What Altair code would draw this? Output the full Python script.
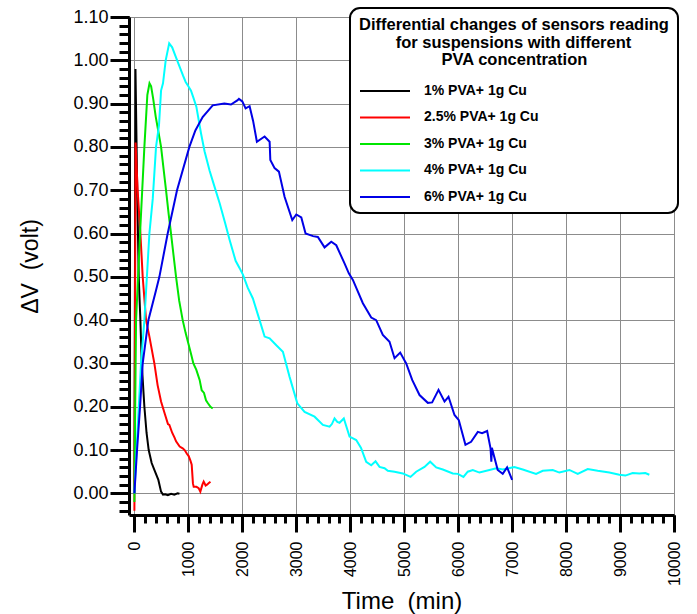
import altair as alt
import pandas as pd

FONT = "Liberation Sans"

series_names = ["1% PVA+ 1g Cu", "2.5% PVA+ 1g Cu", "3% PVA+ 1g Cu", "4% PVA+ 1g Cu", "6% PVA+ 1g Cu"]
series_colors = ["#000000", "#ff0000", "#00e600", "#00ffff", "#0000e6"]

x_1 = [0, 20, 50, 80, 111, 136, 185, 225, 265, 320, 370, 444, 494, 530, 570, 620, 680, 740, 800, 835]
y_1 = [0.0, 0.98, 0.72, 0.50, 0.40, 0.30, 0.20, 0.14, 0.10, 0.07, 0.054, 0.031, 0.004, -0.003, -0.002, -0.004, -0.001, -0.003, 0.0, -0.001]

x_2 = [0, 22, 60, 111, 154, 216, 278, 370, 430, 494, 560, 622, 648, 700, 746, 772, 839, 895, 931, 970, 1006,
       1040, 1062, 1085, 1099, 1150, 1191, 1222, 1260, 1284, 1320, 1346, 1380, 1410]
y_2 = [-0.04, 0.81, 0.70, 0.60, 0.50, 0.40, 0.362, 0.30, 0.25, 0.212, 0.185, 0.160, 0.158, 0.140, 0.128, 0.120, 0.108, 0.104, 0.100, 0.092, 0.086,
       0.075, 0.066, 0.023, 0.015, 0.015, 0.012, 0.004, 0.020, 0.027, 0.018, 0.020, 0.024, 0.027]

x_3 = [0, 15, 31, 105, 185, 240, 280, 310, 350, 395, 445, 494, 540, 586, 635, 679, 725, 772, 830, 895, 950, 1000,
       1050, 1093, 1148, 1209, 1247, 1290, 1327, 1363, 1410, 1451]
y_3 = [-0.02, 0.20, 0.40, 0.60, 0.80, 0.92, 0.947, 0.94, 0.91, 0.87, 0.835, 0.80, 0.75, 0.70, 0.645, 0.60, 0.55, 0.50, 0.445, 0.40, 0.37, 0.346,
       0.322, 0.30, 0.285, 0.262, 0.238, 0.232, 0.215, 0.208, 0.200, 0.196]

x_4 = [0, 40, 123, 185, 278, 340, 401, 456, 494, 530, 580, 645, 700, 760, 839, 900, 950, 1000, 1049, 1090, 1148, 1235,
       1300, 1394, 1480, 1580, 1680, 1765, 1876, 1950, 2011, 2100, 2196, 2320, 2413, 2506, 2630, 2752, 2876, 3019,
       3154, 3339, 3493, 3617, 3660, 3709, 3760, 3802, 3881, 3987, 4111, 4200, 4296, 4389, 4469, 4543, 4636, 4696,
       4821, 4974, 5117, 5222, 5376, 5481, 5593, 5716, 5901, 5994, 6098, 6178, 6271, 6395, 6580, 6704, 6827, 7043,
       7197, 7444, 7568, 7753, 7876, 8061, 8216, 8401, 8586, 8802, 8988, 9098, 9234, 9358, 9469, 9543]
y_4 = [0.0, 0.10, 0.30, 0.40, 0.60, 0.68, 0.80, 0.85, 0.93, 0.947, 1.0, 1.039, 1.03, 1.01, 0.985, 0.965, 0.95, 0.94, 0.93, 0.915, 0.893, 0.831,
       0.79, 0.745, 0.71, 0.67, 0.625, 0.585, 0.537, 0.52, 0.505, 0.475, 0.450, 0.400, 0.362, 0.358, 0.342, 0.327, 0.269, 0.208,
       0.188, 0.177, 0.158, 0.154, 0.160, 0.173, 0.165, 0.163, 0.173, 0.131, 0.123, 0.105, 0.073, 0.065, 0.074, 0.061, 0.058, 0.052,
       0.050, 0.046, 0.038, 0.050, 0.061, 0.073, 0.060, 0.055, 0.046, 0.045, 0.038, 0.050, 0.054, 0.048, 0.054, 0.058, 0.055, 0.061,
       0.055, 0.045, 0.052, 0.054, 0.048, 0.054, 0.045, 0.056, 0.052, 0.048, 0.043, 0.041, 0.047, 0.046, 0.047, 0.043]

x_6 = [0, 49, 105, 154, 259, 401, 463, 617, 790, 1019, 1130, 1265, 1451, 1667, 1790, 1914, 1937, 2000, 2061, 2135, 2200,
       2270, 2413, 2506, 2519, 2598, 2678, 2783, 2926, 3000, 3093, 3172, 3311, 3400, 3524, 3648, 3741, 3894, 3974,
       4049, 4234, 4389, 4481, 4604, 4728, 4821, 4926, 5037, 5148, 5284, 5438, 5518, 5636, 5747, 5821, 5932, 6012,
       6135, 6240, 6364, 6444, 6537, 6600, 6615, 6625, 6733, 6826, 6907, 7000]
y_6 = [0.0, 0.10, 0.20, 0.30, 0.40, 0.469, 0.50, 0.60, 0.70, 0.80, 0.838, 0.869, 0.896, 0.90, 0.898, 0.908, 0.911, 0.905, 0.889, 0.894, 0.86,
       0.812, 0.824, 0.812, 0.770, 0.751, 0.743, 0.685, 0.631, 0.644, 0.637, 0.600, 0.594, 0.592, 0.568, 0.581, 0.573, 0.531, 0.508,
       0.493, 0.439, 0.406, 0.400, 0.366, 0.350, 0.312, 0.325, 0.300, 0.262, 0.227, 0.209, 0.210, 0.239, 0.212, 0.223, 0.181, 0.169,
       0.112, 0.119, 0.142, 0.139, 0.144, 0.104, 0.073, 0.105, 0.054, 0.045, 0.060, 0.031]

x_major = [0, 1000, 2000, 3000, 4000, 5000, 6000, 7000, 8000, 9000, 10000]
y_major = [0.0, 0.1, 0.2, 0.3, 0.4, 0.5, 0.6, 0.7, 0.8, 0.9, 1.0, 1.1]
x_minor = [200 * i for i in range(51)]
y_minor = [round(-0.04 + 0.02 * i, 2) for i in range(58)]

# a zero-width space keeps the centring non-breaking spaces from being trimmed
legend_title = ["Differential changes of sensors reading",
                "\u200b" + "\u00a0" * 8 + "for suspensions with different",
                "\u200b" + "\u00a0" * 18 + "PVA concentration"]

rows = []
for name, xs, ys in zip(series_names, [x_1, x_2, x_3, x_4, x_6], [y_1, y_2, y_3, y_4, y_6]):
    for xv, yv in zip(xs, ys):
        rows.append({"series": name, "time": xv, "dv": yv})
df = pd.DataFrame(rows)

xscale = alt.Scale(domain=[-100, 10000], nice=False, zero=False)
yscale = alt.Scale(domain=[-0.05, 1.10], nice=False, zero=False)

base = alt.Chart(df)

minor = base.mark_point(opacity=0).encode(
    x=alt.X("time:Q", scale=xscale, axis=alt.Axis(
        orient="bottom", values=x_minor, tickSize=8, tickWidth=3, tickColor="black",
        labels=False, domain=False, grid=False, title=None)),
    y=alt.Y("dv:Q", scale=yscale, axis=alt.Axis(
        orient="left", values=y_minor, tickSize=10, tickWidth=3, tickColor="black",
        labels=False, domain=False, grid=False, title=None)),
)

lines = base.mark_line(strokeWidth=2).encode(
    x=alt.X("time:Q", scale=xscale, axis=alt.Axis(
        orient="bottom", values=x_major, tickSize=17, tickWidth=3, tickColor="black",
        domainWidth=3, domainColor="black", grid=True, gridColor="#8c8c8c", gridWidth=1,
        labelAngle=-90, labelFontSize=16, labelFont=FONT, labelColor="black", labelPadding=9,
        labelFlush=False, labelOverlap=False, format="d",
        title="Time\u00a0\u00a0(min)", titleFont=FONT, titleFontSize=24, titleFontWeight="normal",
        titleColor="black", titlePadding=4)),
    y=alt.Y("dv:Q", scale=yscale, axis=alt.Axis(
        orient="left", values=y_major, tickSize=19, tickWidth=3, tickColor="black",
        domainWidth=3, domainColor="black", grid=True, gridColor="#8c8c8c", gridWidth=1,
        labelFontSize=18, labelFont=FONT, labelColor="black", labelPadding=2, format=".2f",
        labelFlush=False, labelOverlap=False,
        title="\u0394V\u00a0\u00a0(volt)", titleFont=FONT, titleFontSize=23, titleFontWeight="normal",
        titleColor="black", titlePadding=30)),
    color=alt.Color("series:N", sort=series_names,
                    scale=alt.Scale(domain=series_names, range=series_colors),
                    legend=alt.Legend(
                        title=legend_title,
                        orient="none", legendX=221, legendY=-9,
                        titleFont=FONT, titleFontSize=16.5, titleFontWeight="bold", titleColor="black",
                        titleAnchor="start", titleAlign="left", titleLineHeight=17.7, titlePadding=15,
                        titleLimit=500,
                        labelFont=FONT, labelFontSize=14, labelFontWeight="bold", labelColor="black",
                        labelLimit=400,
                        symbolType="M-5,0H5", symbolSize=100, symbolStrokeWidth=2,
                        symbolOffset=19, labelOffset=32, rowPadding=12.5,
                        padding=9, cornerRadius=10, strokeColor="black", fillColor="white")),
)

chart = alt.layer(minor, lines).resolve_axis(x="independent", y="independent").properties(
    width=545, height=498,
    padding={"left": 129, "top": 17, "right": 23, "bottom": 99},
    autosize=alt.AutoSizeParams(type="none"),
).configure_view(stroke=None).configure_legend(strokeWidth=2)

chart.save("out.html", embed_options={"renderer": "svg", "actions": False})
